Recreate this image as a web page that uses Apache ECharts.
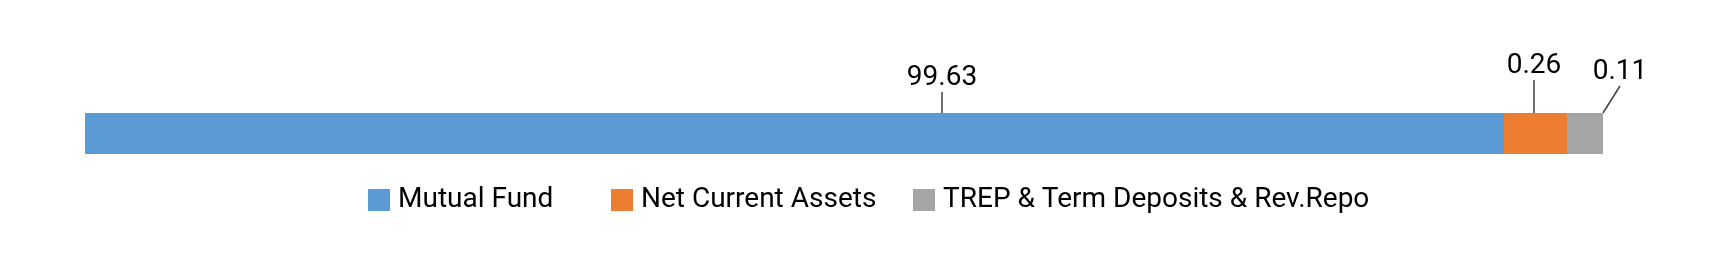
<!DOCTYPE html>
<html>
<head>
<meta charset="utf-8">
<script src="https://cdn.jsdelivr.net/npm/echarts@6/dist/echarts.min.js"></script>
<style>
  html, body { margin: 0; padding: 0; background: #ffffff; }
  #chart { width: 1723px; height: 259px; }
</style>
</head>
<body>
<div id="chart"></div>
<script>
// Data
var categories = ['Portfolio'];
var seriesNames = ['Mutual Fund', 'Net Current Assets', 'TREP & Term Deposits & Rev.Repo'];
// Bar lengths as drawn in the picture (share of the full bar)
var barLengths = [93.48, 4.15, 2.37];
// Values printed as data labels
var labelValues = ['99.63', '0.26', '0.11'];
var colors = ['#5B9BD5', '#ED7D31', '#A5A5A5'];

// Layout (label centres, label left padding and legend positions, pixels)
var labelPos = [[942, 78], [1534, 66], [1620, 72]];
var labelPadLeft = [0, 0, 36];
var legendLeft = [368, 611, 913];

var FONT = 'Roboto, "Open Sans", sans-serif';

var chart = echarts.init(document.getElementById('chart'), null, { renderer: 'canvas' });

var series = seriesNames.map(function (name, i) {
  return {
    name: name,
    type: 'bar',
    stack: 'total',
    barWidth: 41,
    data: [barLengths[i]],
    itemStyle: { color: colors[i] },
    label: {
      show: true,
      position: 'top',
      formatter: function () { return labelValues[i]; },
      fontFamily: FONT,
      fontSize: 28,
      color: '#000000',
      padding: [0, 0, 4, labelPadLeft[i]]
    },
    labelLine: {
      show: true,
      lineStyle: { color: '#404040', width: 1.5 },
      length2: 0
    },
    labelLayout: function () {
      return {
        x: labelPos[i][0] - labelPadLeft[i] / 2,
        y: labelPos[i][1],
        align: 'center',
        verticalAlign: 'middle'
      };
    },
    emphasis: { disabled: true }
  };
});

var legends = seriesNames.map(function (name, i) {
  return {
    data: [name],
    left: legendLeft[i],
    top: 186,
    icon: 'rect',
    itemWidth: 22,
    itemHeight: 22,
    padding: 0,
    selectedMode: false,
    textStyle: { fontFamily: FONT, fontSize: 28, color: '#000000', padding: [0, 0, 0, 3] }
  };
});

chart.setOption({
  animation: false,
  backgroundColor: '#ffffff',
  legend: legends,
  grid: { left: 85, right: 120, top: 113, height: 41, containLabel: false },
  xAxis: {
    type: 'value',
    min: 0,
    max: 100,
    show: false
  },
  yAxis: {
    type: 'category',
    data: categories,
    show: false
  },
  series: series
});
</script>
</body>
</html>
